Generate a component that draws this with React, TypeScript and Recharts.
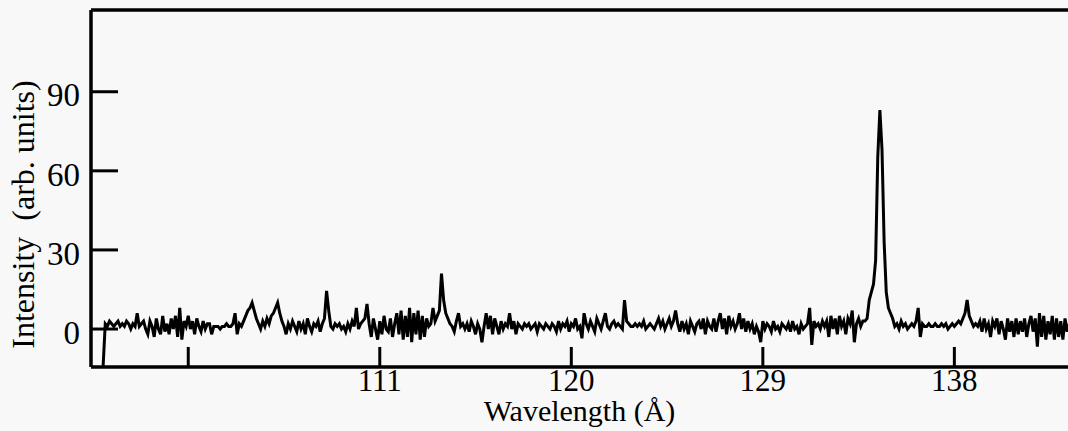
import { Label, Line, LineChart, ReferenceLine, XAxis, YAxis } from 'recharts'

// wavelength grid of the scan (Å)
const wlStart = 98.0
const wlStep = 0.1

// intensity, one row per Å (98.0 ... 143.4)
const intensityRows: number[][] = [
    [-14, 2, 1, 3, 2, 1, 2, 3, 1, 2],
    [1, 3, 2, 0, 2, 1, 6, 1, 2, 3],
    [0, -2, 3, 1, -3, 4, 0, -2, 5, -1],
    [2, -2, 4, 0, 5, -3, 8, -4, 3, 1],
    [5, 0, 3, -2, 4, 1, -1, 3, 0, 2],
    [2, -2, 1, 1, 1, 0, 1, 1, 2, 1],
    [1, 2, 6, -2, 2, 1, 3, 5, 7, 8],
    [10, 7, 4, 2, 0, 3, 1, 4, 2, 5],
    [6, 8, 10, 6, 3, 1, -2, 2, 0, 3],
    [1, -1, 3, 0, 2, -2, 4, 1, -1, 2],
    [1, 3, -1, 2, 4, 14.5, 7, 1, 0, 2],
    [1, 2, 0, 1, -1, 2, 0, 3, 1, 8],
    [0, 2, 3, 4, 9.5, 2, -3, 4, 0, -4],
    [3, -2, 5, 0, -1, 4, -3, 2, 6, -2],
    [7, -4, 5, -3, 8, -5, 6, -2, 7, -4],
    [5, -3, 4, 1, 2, 8, 3, 5, 7, 21],
    [11, 6, 4, 2, 1, -1, 3, 6, 1, 2],
    [0, 2, -1, 3, 1, -2, 2, 0, -5, 1],
    [6, 0, 5, -2, 4, 1, -2, 3, 0, 2],
    [1, 6, 0, 3, -2, 2, 1, 0, 2, 1],
    [2, 0, 1, 2, -1, 2, 1, 0, 2, 1],
    [0, 2, 1, -1, 3, 0, 2, 1, 3, -1],
    [2, 1, 4, 0, 1, -3.5, 6, 2, 0, 3],
    [1, -1, 4, 2, 0, 3, 6, 1, 0, 2],
    [3, 1, 2, 1, 0, 11, 3, 2, 1, 1],
    [2, 1, 2, 1, 3, 0, 1, 2, 1, 0],
    [2, 4, 1, 3, 0, 2, 4, 1, 3, 7],
    [2, -1, 3, 0, 2, -2, 3, 1, -1, 2],
    [3, 0, 4, -2, 3, 1, 0, 4, -1, 3],
    [6, 0, 4, -2, 5, 1, 3, 0, 2, 6],
    [0, 4, -1, 3, 0, 2, -2, 1, -1, -5],
    [3, 0, 2, 1, -1, 3, 0, 1, -1, 2],
    [1, 0, 2, -1, 3, 0, 1, -2, 2, 0],
    [1, 2, 8, -6, 3, 1, 2, 0, 3, 1],
    [3, -3, 5, 0, 4, -2, 5, 1, 3, -2],
    [4, 2, 7, -5, 2, 4, 1, 3, 3, 4],
    [11, 14, 17, 26, 65, 83, 68, 33, 14, 8],
    [6, 4, 1, 2, 0, 3, 1, 2, 0, 1],
    [2, 1, 3, 8, -3, 2, 1, 1, 2, 1],
    [1, 2, 1, 1, 2, 1, 2, 0, 1, 2],
    [1, 2, 3, 2, 4, 6, 11, 5, 3, 1],
    [2, 1, 3, -1, 4, 0, 2, -3, 3, 1],
    [4, -2, 3, 0, -4, 4, -1, 3, -3, 4],
    [-2, 3, -1, 4, -3, 2, 5, -1, 4, -6.7],
    [6, -3, 5, -4, 3, -2, 5, -4, 4, -3],
    [3, -4, 4, -1, 2],
]

const xDomain = [97.43, 143.34]
const yDomain = [-14.4, 121]
const xTickLabels = [111, 120, 129, 138]
const xTickMarks = [102, 111, 120, 129, 138]
const yTicks = [0, 30, 60, 90]

const font = '"Liberation Serif", "Times New Roman", serif'
const yTickLen = 1.27 // Å, inward tick length on the left frame
const xTickLen = 7.6 // intensity units, inward tick length on the bottom frame

const data = intensityRows.flat().map((v, i) => ({
    wl: +(wlStart + i * wlStep).toFixed(2),
    intensity: v,
}))

const App = () => {
    return (
        <div style={{ position: 'absolute', left: 0, top: 0, width: 1068, height: 431, background: '#f8f8f8' }}>
            <LineChart
                width={1068}
                height={431}
                data={data}
                margin={{ top: 10, right: 0, left: 0, bottom: 0 }}
            >
                <XAxis
                    dataKey="wl"
                    type="number"
                    domain={xDomain}
                    allowDataOverflow
                    ticks={xTickLabels}
                    tickLine={false}
                    tickSize={0}
                    tickMargin={2}
                    height={64}
                    axisLine={{ stroke: '#000', strokeWidth: 3.5 }}
                    tick={{ fill: '#000', fontSize: 31, fontFamily: font }}
                >
                    <Label
                        value="Wavelength (Å)"
                        position="insideTop"
                        offset={33}
                        style={{ fill: '#000', fontSize: 30, fontFamily: font }}
                    />
                </XAxis>
                <YAxis
                    type="number"
                    domain={yDomain}
                    allowDataOverflow
                    ticks={yTicks}
                    tickLine={false}
                    tickSize={0}
                    tickMargin={11}
                    width={91}
                    axisLine={{ stroke: '#000', strokeWidth: 3.5 }}
                    tick={{ fill: '#000', fontSize: 33, fontFamily: font, dy: 3 }}
                >
                    <Label
                        value={'Intensity\u00a0 (arb. units)'}
                        angle={-90}
                        position="center"
                        dx={-23}
                        dy={26}
                        style={{ fill: '#000', fontSize: 32, fontFamily: font, textAnchor: 'middle' }}
                    />
                </YAxis>
                <ReferenceLine y={yDomain[1]} stroke="#000" strokeWidth={3.5} ifOverflow="visible" />
                {yTicks.map(t => (
                    <ReferenceLine
                        key={'y' + t}
                        segment={[{ x: xDomain[0], y: t }, { x: xDomain[0] + yTickLen, y: t }]}
                        stroke="#000"
                        strokeWidth={3}
                        ifOverflow="visible"
                    />
                ))}
                {xTickMarks.map(t => (
                    <ReferenceLine
                        key={'x' + t}
                        segment={[{ x: t, y: yDomain[0] }, { x: t, y: yDomain[0] + xTickLen }]}
                        stroke="#000"
                        strokeWidth={3}
                        ifOverflow="visible"
                    />
                ))}
                <Line
                    type="linear"
                    dataKey="intensity"
                    stroke="#000"
                    strokeWidth={3}
                    dot={false}
                    isAnimationActive={false}
                />
            </LineChart>
        </div>
    )
}

export default App
